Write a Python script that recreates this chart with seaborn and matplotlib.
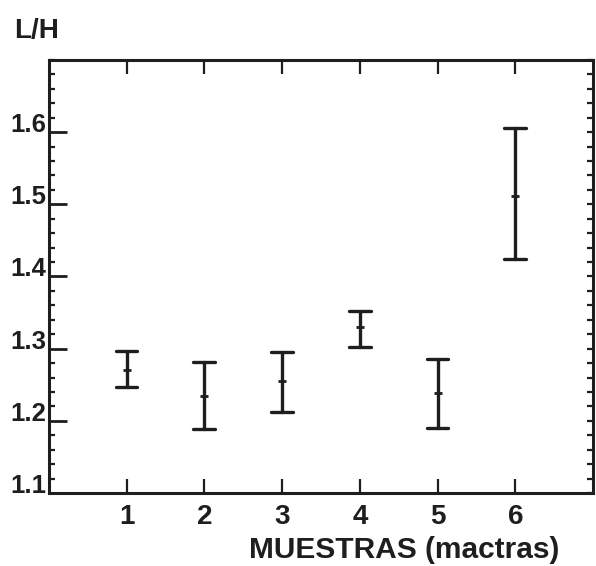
import numpy as np
import pandas as pd
import matplotlib
matplotlib.use("Agg")
import matplotlib.pyplot as plt
from matplotlib.ticker import MultipleLocator, FixedLocator
import seaborn as sns

# valores (L/H por muestra)
muestras = [1, 2, 3, 4, 5, 6]
lh_min = [1.247, 1.188, 1.212, 1.302, 1.190, 1.424]
lh_med = [1.271, 1.234, 1.255, 1.330, 1.238, 1.512]
lh_max = [1.297, 1.281, 1.296, 1.352, 1.285, 1.606]
y_ticks = [1.1, 1.2, 1.3, 1.4, 1.5, 1.6]

df = pd.DataFrame({
    "muestra": muestras * 3,
    "lh": lh_min + lh_med + lh_max,
})

sns.set_style("ticks")
plt.rcParams["font.family"] = ["Liberation Sans", "DejaVu Sans"]
ink = "#1e1e1e"

fig = plt.figure(figsize=(5.96, 5.66), dpi=100)
ax = fig.add_axes([0.082, 0.129, 0.913, 0.765])

sns.pointplot(
    data=df, x="muestra", y="lh", ax=ax,
    estimator="median", errorbar=lambda v: (v.min(), v.max()),
    native_scale=True, linestyle="none", marker="_", markersize=6,
    capsize=0.28, color=ink, err_kws={"linewidth": 2.4},
)

ax.set_xlim(0, 7)
ax.set_ylim(1.1, 1.7)
ax.set_xlabel("")
ax.set_ylabel("")

for s in ax.spines.values():
    s.set_visible(True)
    s.set_linewidth(2.2)
    s.set_color(ink)

ax.set_xticks(muestras)
ax.set_xticklabels([str(m) for m in muestras], fontsize=20, fontweight="bold")
ax.set_yticks(y_ticks)
ax.set_yticklabels([f"{v:.1f}" for v in y_ticks], fontsize=18.5,
                   fontweight="bold", va="baseline")
ax.yaxis.set_minor_locator(MultipleLocator(0.02))

ax.tick_params(axis="x", which="major", direction="in", length=10, width=1.6,
               color=ink, top=True, bottom=True, pad=8, labelcolor=ink)
ax.tick_params(axis="y", which="major", direction="in", length=13, width=2,
               color=ink, left=True, right=False, pad=2, labelcolor=ink)
ax.tick_params(axis="y", which="minor", direction="in", length=4.5, width=1.6,
               color=ink, left=True, right=False)

# marcas del lado derecho: todas cortas
ax2 = ax.twinx()
ax2.set_ylim(ax.get_ylim())
ax2.yaxis.set_major_locator(FixedLocator(np.arange(1.1, 1.701, 0.02)))
ax2.tick_params(axis="y", direction="in", length=4.5, width=1.6, color=ink,
                labelright=False)
for s in ax2.spines.values():
    s.set_visible(False)

fig.text(0.023, 0.933, "L/H", fontsize=20, fontweight="bold", color=ink,
         va="baseline", ha="left")
fig.text(0.678, 0.014, "MUESTRAS (mactras)", fontsize=21.5, fontweight="bold",
         color=ink, va="baseline", ha="center")

fig.savefig("out.png", dpi=100, facecolor="white")
